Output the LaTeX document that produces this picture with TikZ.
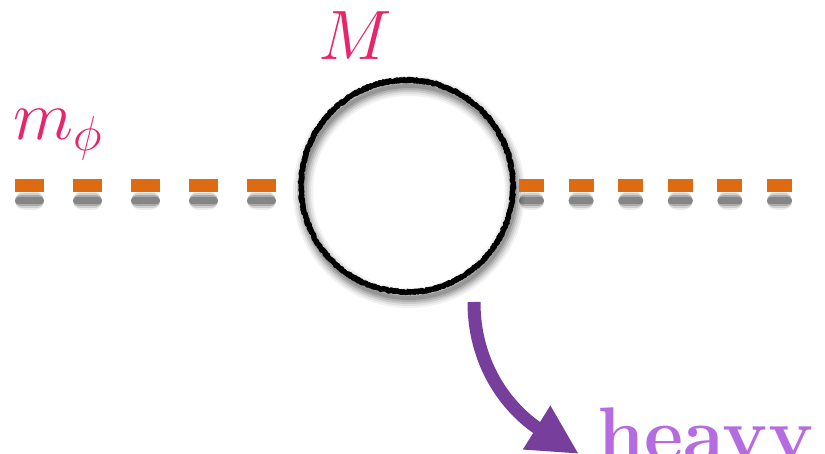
\RequirePackage{fix-cm}
\documentclass[tikz,border=0pt]{standalone}
\usetikzlibrary{arrows.meta, decorations.pathmorphing, backgrounds}

\definecolor{massPink}{HTML}{E8246A}
\definecolor{phiOrange}{HTML}{DE6A12}
\definecolor{arrowPurple}{HTML}{773E9B}
\definecolor{heavyLilac}{HTML}{B46CE0}

\begin{document}
\begin{tikzpicture}[
        x=1pt, y=1pt,
        loopnode/.style={circle, minimum size=212pt, inner sep=0pt},
        roughring/.style={draw=black, line width=#1, line join=round,
                          decorate, decoration={random steps, segment length=1.3pt, amplitude=1pt}},
        scalarline/.style={phiOrange, line width=13pt},
        masslabel/.style={text=massPink, font=\fontsize{70}{80}\selectfont,
                          inner sep=0pt, anchor=base west},
        decayarrow/.style={arrowPurple, line width=13pt, -{Triangle[length=50pt, width=48pt]}}
    ]
    \useasboundingbox (0,0) rectangle (825,454);
    \clip (0,0) rectangle (825,454);
    \pgfmathsetseed{7}

    \node[loopnode] (loop) at (407,268) {};
    \draw[roughring=5pt] (loop.center) circle (106);
    \draw[roughring=1.2pt] (loop.center) circle (107.8);
    \draw[roughring=1.2pt] (loop.center) circle (104.2);

    \node[masslabel] (mheavy) at (318,394) {$M$};
    \node[masslabel] (mphi) at (13,314) {$m_\phi$};
    \node[text=heavyLilac, font=\fontsize{76}{80}\selectfont\bfseries,
          inner sep=0pt, anchor=base west] (heavy) at (597,-7) {heavy};

    % external legs
    \coordinate (phiin) at (15,268);
    \coordinate (phiout) at (792,268);
    \draw[scalarline, dash pattern=on 29pt off 29pt] (phiin) -- (loop.west);
    \draw[scalarline, dash pattern=on 25pt off 24.6pt] (phiout) -- (loop.east);

    % soft shadows
    \begin{scope}[on background layer]
        \foreach \lw/\op in {20/0.05, 16/0.07, 12/0.1, 8/0.13, 4/0.15}
            \draw[black, opacity=\op, line width=\lw pt] ([shift={(2,-6)}]loop.center) circle (106);
        \foreach \lw/\op in {19/0.07, 15/0.12, 11/0.18, 7/0.22}{
            \pgfmathsetmacro\sh{\lw/2}
            \pgfmathsetmacro\onl{29-\lw}
            \pgfmathsetmacro\offl{29+\lw}
            \pgfmathsetmacro\onr{25-\lw}
            \pgfmathsetmacro\offr{24.6+\lw}
            \draw[black, opacity=\op, line width=\lw pt, line cap=round,
                  dash pattern=on \onl pt off \offl pt, shorten <=\sh pt]
                ([yshift=-15pt]phiin) -- ([yshift=-15pt]loop.west);
            \draw[black, opacity=\op, line width=\lw pt, line cap=round,
                  dash pattern=on \onr pt off \offr pt, shorten <=\sh pt]
                ([yshift=-15pt]phiout) -- ([yshift=-15pt]loop.east);
        }
    \end{scope}

    \coordinate (arrstart) at (474,152);
    \coordinate (arrtip) at (579,0);
    \draw[decayarrow] (arrstart) to[out=-90, in=148] (arrtip);
\end{tikzpicture}
\end{document}
